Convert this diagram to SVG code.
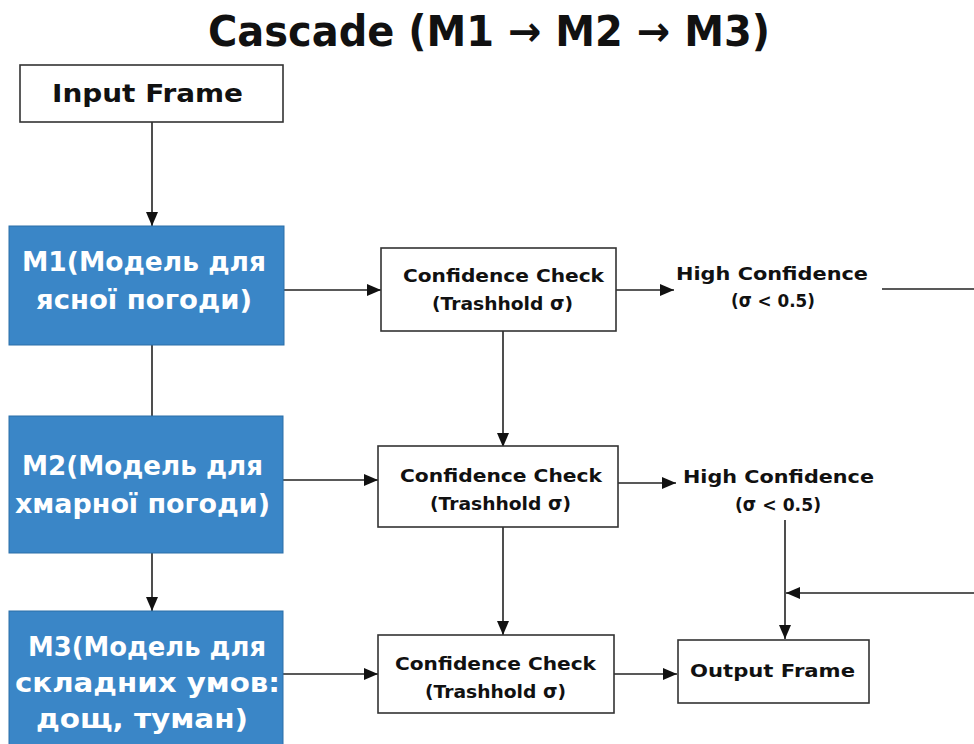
<svg xmlns="http://www.w3.org/2000/svg" width="974" height="744" viewBox="0 0 974 744">
<defs>
<marker id="ah" viewBox="0 0 14 12" refX="14" refY="6" markerWidth="14" markerHeight="12" markerUnits="userSpaceOnUse" orient="auto">
<path d="M0,0 L14,6 L0,12 z" fill="#111"/>
</marker>
<style>
.t{font-family:"DejaVu Sans","Liberation Sans",sans-serif;font-weight:bold;text-anchor:middle;fill:#111}
.w{fill:#fff}
.s{font-size:18.5px}
.b{font-size:26px}
.box{fill:#fff;stroke:#333;stroke-width:1.6}
.blue{fill:#3a86c7;stroke:#2a6ea8;stroke-width:1}
.c{stroke:#222;stroke-width:1.6;fill:none}
.ca{stroke:#222;stroke-width:1.6;fill:none;marker-end:url(#ah)}
</style>
</defs>
<rect width="974" height="744" fill="#fff"/>
<text class="t" x="489" y="46" font-size="42" textLength="562" lengthAdjust="spacingAndGlyphs">Cascade (M1 → M2 → M3)</text>

<g id="connectors">
<line class="ca" x1="152" y1="122" x2="152" y2="226"/>
<line class="c" x1="152" y1="345" x2="152" y2="416"/>
<line class="ca" x1="152" y1="553" x2="152" y2="611"/>
<line class="ca" x1="284" y1="290" x2="381" y2="290"/>
<line class="ca" x1="283" y1="480" x2="378" y2="480"/>
<line class="ca" x1="283" y1="674" x2="378" y2="674"/>
<line class="ca" x1="616" y1="290" x2="674" y2="290"/>
<line class="ca" x1="618" y1="483" x2="676" y2="483"/>
<line class="ca" x1="614" y1="674" x2="677" y2="674"/>
<line class="ca" x1="503" y1="331" x2="503" y2="447"/>
<line class="ca" x1="503" y1="527" x2="503" y2="635"/>
<line class="c" x1="882" y1="289" x2="974" y2="289"/>
<line class="ca" x1="785" y1="520" x2="785" y2="639"/>
<line class="ca" x1="974" y1="593" x2="786" y2="593"/>
</g>

<g id="input">
<rect class="box" x="20" y="65" width="263" height="57"/>
<text class="t" x="147.5" y="102" font-size="24" textLength="191" lengthAdjust="spacingAndGlyphs">Input Frame</text>
</g>

<g id="m1">
<rect class="blue" x="9" y="226" width="275" height="119"/>
<text class="t w b" x="144" y="271" textLength="244" lengthAdjust="spacingAndGlyphs">M1(Модель для</text>
<text class="t w b" x="144" y="309" textLength="216" lengthAdjust="spacingAndGlyphs">ясної погоди)</text>
</g>

<g id="m2">
<rect class="blue" x="9" y="416" width="274" height="137"/>
<text class="t w b" x="142.5" y="475" textLength="241" lengthAdjust="spacingAndGlyphs">M2(Модель для</text>
<text class="t w b" x="142.5" y="513" textLength="255" lengthAdjust="spacingAndGlyphs">хмарної погоди)</text>
</g>

<g id="m3">
<rect class="blue" x="9" y="611" width="274" height="140"/>
<text class="t w b" x="147" y="656" textLength="238" lengthAdjust="spacingAndGlyphs">M3(Модель для</text>
<text class="t w b" x="147.5" y="692" textLength="265" lengthAdjust="spacingAndGlyphs">складних умов:</text>
<text class="t w b" x="142" y="728" textLength="212" lengthAdjust="spacingAndGlyphs">дощ, туман)</text>
</g>

<g id="cc1">
<rect class="box" x="381" y="248" width="235" height="83"/>
<text class="t s" x="503.5" y="282" textLength="201" lengthAdjust="spacingAndGlyphs">Confidence Check</text>
<text class="t s" x="502.5" y="310" textLength="141" lengthAdjust="spacingAndGlyphs">(Trashhold σ)</text>
</g>

<g id="cc2">
<rect class="box" x="378" y="446" width="240" height="81"/>
<text class="t s" x="501" y="482" textLength="202" lengthAdjust="spacingAndGlyphs">Confidence Check</text>
<text class="t s" x="500.5" y="510" textLength="141" lengthAdjust="spacingAndGlyphs">(Trashhold σ)</text>
</g>

<g id="cc3">
<rect class="box" x="378" y="635" width="236" height="78"/>
<text class="t s" x="495.5" y="670" textLength="201" lengthAdjust="spacingAndGlyphs">Confidence Check</text>
<text class="t s" x="495.5" y="698" textLength="141" lengthAdjust="spacingAndGlyphs">(Trashhold σ)</text>
</g>

<g id="hc1">
<text class="t s" x="772" y="280" textLength="192" lengthAdjust="spacingAndGlyphs">High Confidence</text>
<text class="t s" x="773" y="307" textLength="84" lengthAdjust="spacingAndGlyphs">(σ &lt; 0.5)</text>
</g>

<g id="hc2">
<text class="t s" x="778.5" y="483" textLength="191" lengthAdjust="spacingAndGlyphs">High Confidence</text>
<text class="t s" x="778" y="511" textLength="86" lengthAdjust="spacingAndGlyphs">(σ &lt; 0.5)</text>
</g>

<g id="output">
<rect class="box" x="678" y="640" width="191" height="63"/>
<text class="t s" x="772.5" y="677" textLength="165" lengthAdjust="spacingAndGlyphs">Output Frame</text>
</g>
</svg>
